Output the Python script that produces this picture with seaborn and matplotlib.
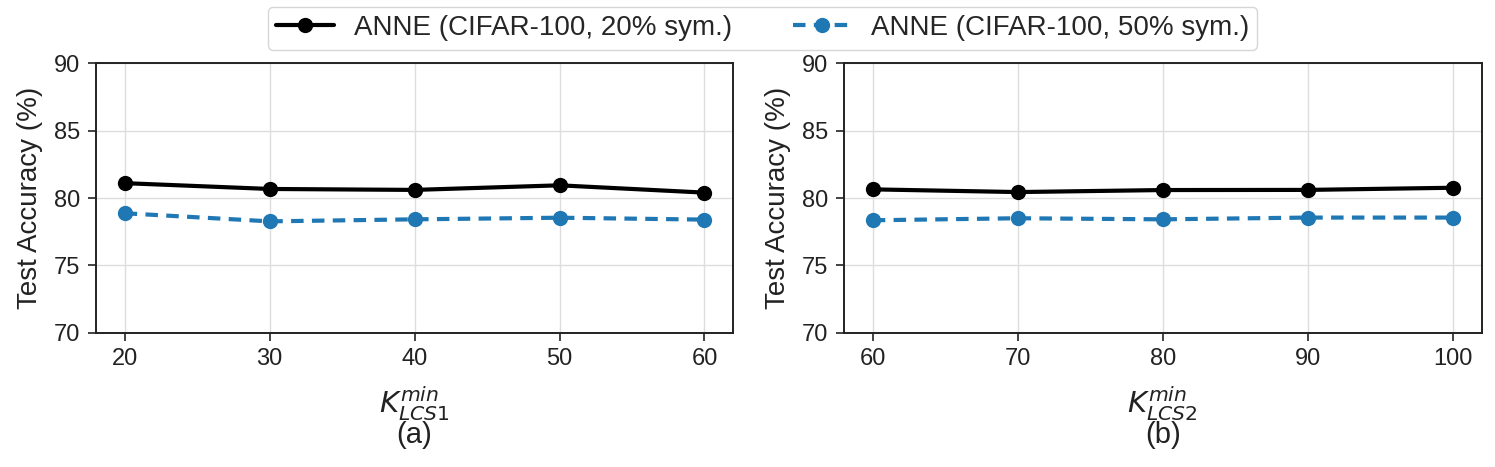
import matplotlib
matplotlib.use("Agg")
import matplotlib.pyplot as plt
import seaborn as sns
import pandas as pd

x_a = [20, 30, 40, 50, 60]
x_b = [60, 70, 80, 90, 100]
acc20_a = [81.1, 80.67, 80.6, 80.94, 80.4]
acc50_a = [78.87, 78.27, 78.42, 78.54, 78.4]
acc20_b = [80.64, 80.44, 80.59, 80.6, 80.76]
acc50_b = [78.35, 78.5, 78.42, 78.55, 78.55]
series_names = ["ANNE (CIFAR-100, 20% sym.)", "ANNE (CIFAR-100, 50% sym.)"]
yticks = [70, 75, 80, 85, 90]

sns.set_theme(style="whitegrid")
plt.rcParams['font.family'] = ['Arial', 'Liberation Sans', 'DejaVu Sans']
plt.rcParams['mathtext.fontset'] = 'dejavusans'

fig, axes = plt.subplots(1, 2, figsize=(14.95, 4.67), dpi=100)
fig.subplots_adjust(left=0.064, right=0.991, top=0.865, bottom=0.287, wspace=0.173)

colors = ["black", "#1f77b4"]
panels = [(x_a, acc20_a, acc50_a, r"$K_{LCS1}^{min}$", "(a)"),
          (x_b, acc20_b, acc50_b, r"$K_{LCS2}^{min}$", "(b)")]
for ax, (xs, s20, s50, xl, tag) in zip(axes, panels):
    df = pd.DataFrame({"x": xs * 2, "y": s20 + s50,
                       "series": [series_names[0]] * len(xs) + [series_names[1]] * len(xs)})
    for i, name in enumerate(series_names):
        sub = df[df.series == name]
        sns.lineplot(data=sub, x="x", y="y", ax=ax, color=colors[i], marker="o",
                     markersize=11, linewidth=3, linestyle="-" if i == 0 else (0, (3, 2)),
                     markeredgewidth=0, label=name, legend=False)
    ax.set_ylim(70, 90)
    ax.set_yticks(yticks)
    ax.set_xticks(xs)
    ax.set_xlim(xs[0] - (xs[-1] - xs[0]) * 0.05, xs[-1] + (xs[-1] - xs[0]) * 0.05)
    ax.set_ylabel("Test Accuracy (%)", fontsize=20, color="#222222", labelpad=8)
    ax.set_xlabel(xl + "\n" + tag, fontsize=21, color="#222222", linespacing=0.9, labelpad=10)
    ax.tick_params(axis="both", labelsize=17, colors="#222222", length=6, width=1.2, direction="out",
                   bottom=True, left=True, pad=5)
    for sp in ax.spines.values():
        sp.set_color("#222222")
        sp.set_linewidth(1.4)
    ax.grid(True, color="#dddddd", linewidth=1)

handles, labels = axes[0].get_legend_handles_labels()
fig.legend(handles, labels, loc="upper center", ncol=2, fontsize=20, frameon=True,
           bbox_to_anchor=(0.51, 1.015), handlelength=2.1, columnspacing=2.2,
           edgecolor="#cccccc", fancybox=True, borderpad=0.3, handletextpad=0.7)

fig.savefig("out.png", dpi=100)
